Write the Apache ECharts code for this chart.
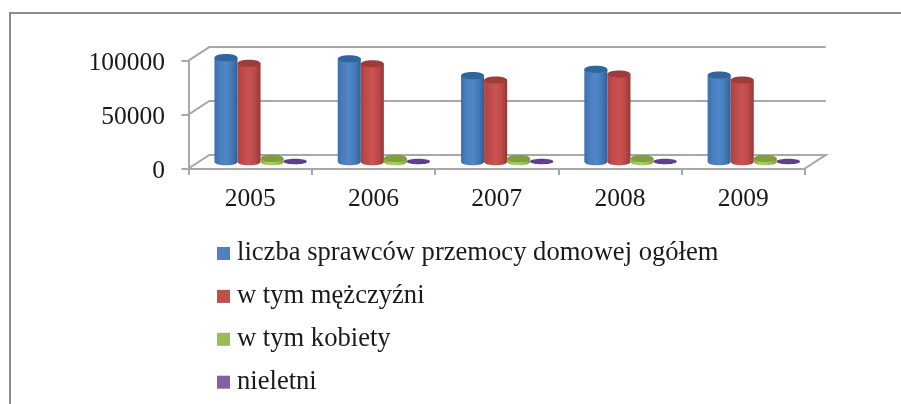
<!DOCTYPE html>
<html>
<head>
<meta charset="utf-8">
<style>
html,body{margin:0;padding:0;background:#fff}
#c{width:901px;height:404px;filter:blur(0.45px)}
</style>
<script src="https://cdn.jsdelivr.net/npm/echarts@6/dist/echarts.min.js"></script>
</head>
<body>
<div id="c"></div>
<script>
const years = ['2005','2006','2007','2008','2009'];
const yTicks = [0,50000,100000];
const sprawcy = [96500,95500,79800,85700,80400];
const mezczyzni = [91300,90800,75800,81300,75800];
const kobiety = [3000,3000,2800,2900,2900];
const nieletni = [400,400,400,400,400];
const names = ['liczba sprawców przemocy domowej ogółem','w tym mężczyźni','w tym kobiety','nieletni'];
const FONT = '"Liberation Serif","Times New Roman",serif';
const AXIS = '#a8a8a8';
const DEPTH = [20.8,-13.6];
const styles = [
 {legend:'#4f81bd',stops:['#3d70aa','#4a7fc0','#5087c6','#447ab8','#30609a'],top:'#30659e'},
 {legend:'#c0504d',stops:['#ad4341','#c04c4a','#c95452','#bc4a48','#973735'],top:'#9c3d3c'},
 {legend:'#9bbb59',stops:['#8aad4a','#a3cb58','#a8d05c','#98be50','#82a042'],top:'#7f9e40'},
 {legend:'#8064a2',stops:['#5b3c88','#64448f','#64448f','#5b3c88','#52357a'],top:'#5f3f8c'}
];
function cylinder(slot,style){
  return function(params,api){
    const idx=api.value(0), v=api.value(1);
    const base=api.coord([idx,0]), top=api.coord([idx,v]);
    const bw=api.size([1,0])[0]*0.187;
    const ox=DEPTH[0]*0.5, oy=DEPTH[1]*0.5;
    const cx=base[0]+ox+(slot-1.5)*bw;
    const yb=base[1]+oy, yt=top[1]+oy;
    const rx=bw/2, ry=v<1000?2.5:3.6;
    const grad={type:'linear',x:0,y:0,x2:1,y2:0,colorStops:style.stops.map((c,i)=>({offset:i/4,color:c}))};
    const c=ry*1.333;
    const body='M'+(cx-rx)+' '+yt+' L'+(cx-rx)+' '+yb+
      ' C'+(cx-rx)+' '+(yb+c)+' '+(cx+rx)+' '+(yb+c)+' '+(cx+rx)+' '+yb+
      ' L'+(cx+rx)+' '+yt+' Z';
    return {type:'group',children:[
      {type:'path',shape:{pathData:body},style:{fill:grad}},
      {type:'ellipse',shape:{cx:cx,cy:yt,rx:rx,ry:ry},style:{fill:style.top}}
    ]};
  };
}
const wallSeries={
  type:'custom',silent:true,z:1,
  data:yTicks.map(t=>[0,t]),
  encode:{x:0,y:1},
  renderItem:function(params,api){
    const cs=params.coordSys;
    const t=api.value(1);
    const y=api.coord([0,t])[1];
    const L=cs.x, R=cs.x+cs.width;
    const pts=[[L,y],[L+DEPTH[0],y+DEPTH[1]],[R+DEPTH[0],y+DEPTH[1]]];
    if(t===0) pts.push([R,y]);
    return {type:'polyline',shape:{points:pts},style:{fill:'none',stroke:AXIS,lineWidth:2}};
  }
};
const values=[sprawcy,mezczyzni,kobiety,nieletni];
const series=[wallSeries].concat(values.map((arr,i)=>({
  type:'custom',name:names[i],z:3+(i<2?0:1),silent:true,
  itemStyle:{color:styles[i].legend},
  data:arr.map((v,j)=>[j,v]),
  encode:{x:0,y:1},
  renderItem:cylinder(i,styles[i])
})));
const chart=echarts.init(document.getElementById('c'),null,{renderer:'canvas'});
chart.setOption({
  animation:false,
  backgroundColor:'#fff',
  graphic:[{type:'polyline',silent:true,shape:{points:[[10,404],[10,13],[901,13]]},style:{fill:'none',stroke:'#8c8c8c',lineWidth:2}}],
  grid:{left:188.5,top:60.7,width:616.5,height:107.8},
  legend:{
    left:212,top:235,height:165,orient:'vertical',icon:'rect',itemWidth:13,itemHeight:13,itemGap:15.9,
    data:names,selectedMode:false,
    textStyle:{fontFamily:FONT,fontSize:26.6,lineHeight:26,color:'#1a1a1a',padding:[0,0,0,2]}
  },
  xAxis:{
    type:'category',data:years,boundaryGap:true,
    axisLine:{lineStyle:{color:AXIS,width:2}},
    axisTick:{show:true,length:6.5,alignWithLabel:false,lineStyle:{color:AXIS,width:2}},
    axisLabel:{fontFamily:FONT,fontSize:25.5,color:'#1a1a1a',margin:18},
    splitLine:{show:false}
  },
  yAxis:{
    type:'value',min:0,max:100000,interval:50000,
    axisLine:{show:true,lineStyle:{color:AXIS,width:2}},
    axisTick:{show:true,length:7,lineStyle:{color:AXIS,width:2}},
    axisLabel:{fontFamily:FONT,fontSize:25.5,color:'#1a1a1a',margin:23.5,verticalAlign:'top',lineHeight:5,formatter:function(v){return String(v);}},
    splitLine:{show:false}
  },
  series:series
});
</script>
</body>
</html>
